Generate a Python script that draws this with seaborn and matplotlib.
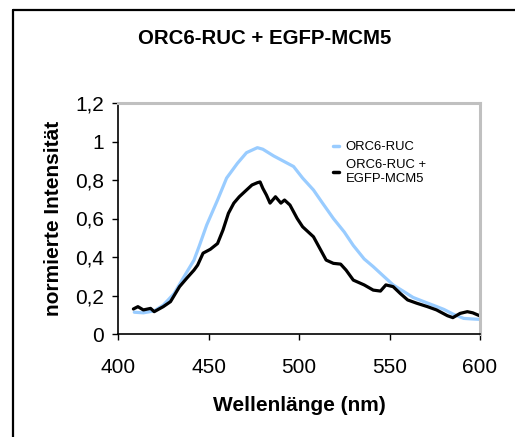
import matplotlib
matplotlib.use("Agg")
import matplotlib.pyplot as plt
import seaborn as sns
import pandas as pd
from matplotlib.lines import Line2D

sns.set_style("white")
plt.rcParams['font.family'] = ['Liberation Sans', 'DejaVu Sans']
plt.rcParams['text.color'] = 'black'
plt.rcParams['axes.labelcolor'] = 'black'
plt.rcParams['xtick.color'] = 'black'
plt.rcParams['ytick.color'] = 'black'

# ORC6-RUC (light blue)
wl_blue = [409, 414, 420, 425, 431, 436, 442, 445, 449, 455, 460, 466, 471, 477,
           480, 486, 491, 497, 502, 508, 513, 519, 525, 530, 536, 541, 547, 552,
           558, 563, 569, 574, 580, 585, 591, 596, 600]
int_blue = [0.113, 0.110, 0.120, 0.150, 0.210, 0.290, 0.384, 0.460, 0.566, 0.696,
            0.810, 0.887, 0.942, 0.968, 0.960, 0.925, 0.900, 0.870, 0.810, 0.748,
            0.680, 0.600, 0.530, 0.460, 0.390, 0.350, 0.298, 0.255, 0.220, 0.190,
            0.168, 0.150, 0.128, 0.104, 0.081, 0.078, 0.076]

# ORC6-RUC + EGFP-MCM5 (black)
wl_black = [408.5, 411, 414, 418, 420, 425, 429, 434, 438, 442, 444, 447, 451, 455,
            458, 461, 464, 467, 471, 474, 477, 478.5, 480, 482, 484, 487, 490, 492,
            495, 499, 502, 508, 512, 515, 519, 523, 526, 530, 536, 541, 545, 548,
            552, 556, 560, 565, 571, 576, 582, 585, 589, 593, 596, 600]
int_black = [0.130, 0.142, 0.125, 0.133, 0.116, 0.142, 0.168, 0.246, 0.290, 0.332,
             0.358, 0.420, 0.440, 0.470, 0.540, 0.627, 0.680, 0.713, 0.748, 0.774,
             0.786, 0.790, 0.757, 0.722, 0.680, 0.713, 0.680, 0.696, 0.670, 0.600,
             0.557, 0.505, 0.436, 0.384, 0.367, 0.363, 0.332, 0.280, 0.255, 0.228,
             0.223, 0.255, 0.246, 0.210, 0.177, 0.160, 0.142, 0.125, 0.095, 0.085,
             0.107, 0.116, 0.110, 0.094]

x_ticks = [400, 450, 500, 550, 600]
y_ticks = [0, 0.2, 0.4, 0.6, 0.8, 1.0, 1.2]
y_tick_labels = ["0", "0,2", "0,4", "0,6", "0,8", "1", "1,2"]

label_blue = "ORC6-RUC"
label_black = "ORC6-RUC +\nEGFP-MCM5"

df_blue = pd.DataFrame({"wl": wl_blue, "val": int_blue})
df_black = pd.DataFrame({"wl": wl_black, "val": int_black})

fig = plt.figure(figsize=(5.15, 4.37), dpi=100)
ax = fig.add_axes([118/515, 1-334/437, (480-118)/515, (334-103)/437])

sns.lineplot(data=df_blue, x="wl", y="val", ax=ax, color="#99ccff", lw=2.3, label=label_blue)
sns.lineplot(data=df_black, x="wl", y="val", ax=ax, color="black", lw=2.3, label=label_black)

ax.set_xlim(400, 600)
ax.set_ylim(0, 1.2)
ax.set_xticks(x_ticks)
ax.set_xticklabels([str(t) for t in x_ticks], fontsize=15)
ax.set_yticks(y_ticks)
ax.set_yticklabels(y_tick_labels, fontsize=15)
ax.tick_params(axis="both", direction="out", length=4, width=1, color="black",
               bottom=True, left=True)
ax.tick_params(axis="y", pad=6)
ax.tick_params(axis="x", pad=13)

for s in ["left", "bottom"]:
    ax.spines[s].set_color("black")
    ax.spines[s].set_linewidth(1.2)
for s in ["top", "right"]:
    ax.spines[s].set_color("#c0c0c0")
    ax.spines[s].set_linewidth(2.2)

ax.set_xlabel("Wellenlänge (nm)", fontsize=15, fontweight="bold", labelpad=14)
ax.set_ylabel("normierte Intensität", fontsize=15, fontweight="bold", labelpad=9)

leg = ax.legend(loc="upper left", bbox_to_anchor=(0.58, 0.857), frameon=False,
                fontsize=9.4, handlelength=0.45, handletextpad=0.5, labelspacing=0.45,
                borderaxespad=0)
for h in leg.get_lines():
    h.set_linewidth(2.5)

fig.text(265/515, 1-39/437, "ORC6-RUC + EGFP-MCM5", ha="center", va="center",
         fontsize=14.7, fontweight="bold")

# outer chart frame (left and top edges visible)
fig.add_artist(Line2D([13/515, 13/515], [0, 1-10/437], transform=fig.transFigure,
                      color="black", lw=1.6))
fig.add_artist(Line2D([13/515, 1], [1-10/437, 1-10/437], transform=fig.transFigure,
                      color="black", lw=1.6))

fig.savefig("out.png", dpi=100)
